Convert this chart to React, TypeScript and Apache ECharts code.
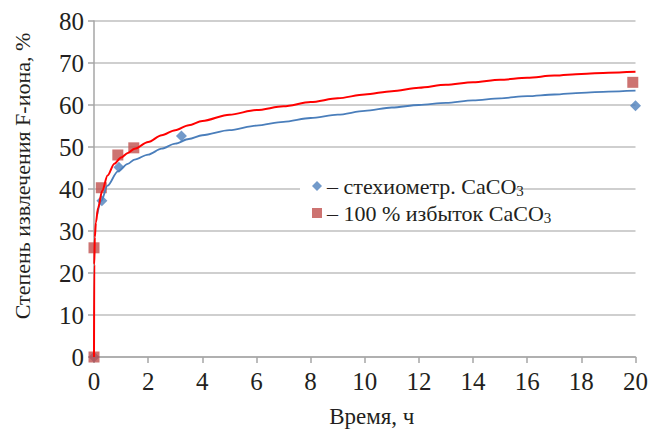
import React, { useEffect, useRef } from "react";
import * as echarts from "echarts";

// Measured points
const blueX = [0, 0.29, 0.92, 3.23, 20];
const blueY = [0, 37.2, 45.2, 52.6, 59.8];
const redX = [0, 0, 0.27, 0.88, 1.47, 19.9];
const redY = [0, 26, 40.3, 48.1, 49.8, 65.4];

// Trend curves
const redCurveX = [0, 0.01, 0.03, 0.07, 0.15, 0.3, 0.5, 0.75, 1, 1.25, 1.5, 2, 2.5, 3, 3.5, 4, 5, 6, 7, 8, 9, 10, 11, 12, 13, 14, 15, 16, 17, 18, 19, 20];
const redCurveY = [0, 22, 28.5, 32, 35.5, 39.5, 43.2, 46, 47.5, 48.6, 49.6, 51.2, 52.8, 54.0, 55.2, 56.2, 57.7, 58.8, 59.7, 60.7, 61.6, 62.5, 63.3, 64.1, 64.8, 65.4, 66.0, 66.5, 67.0, 67.4, 67.7, 67.9];
const blueCurveX = [0.12, 0.27, 0.5, 0.88, 1.25, 1.5, 2, 2.5, 3, 3.5, 4, 5, 6, 7, 8, 9, 10, 11, 12, 13, 14, 15, 16, 17, 18, 19, 20];
const blueCurveY = [34, 37.2, 40.8, 44.2, 46, 47, 48.2, 49.6, 50.8, 51.9, 52.8, 54.0, 55.1, 56.0, 56.9, 57.7, 58.6, 59.4, 60.0, 60.5, 61.1, 61.6, 62.1, 62.5, 62.9, 63.2, 63.4];

const blueName = "стехиометр. CaCO3";
const redName = "100 % избыток CaCO3";
const xTitle = "Время, ч";
const yTitle = "Степень извлечения F-иона, %";

const FONT = "'Liberation Serif', 'Times New Roman', serif";
const TXT = "#231f20";

export default function App() {
  const ref = useRef<HTMLDivElement>(null);
  useEffect(() => {
    if (!ref.current) return;
    const chart = echarts.init(ref.current, undefined, { renderer: "svg" });
    const pairs = (xs: number[], ys: number[]) => xs.map((x, i) => [x, ys[i]]);
    chart.setOption({
      animation: false,
      backgroundColor: "#ffffff",
      textStyle: { fontFamily: FONT },
      grid: { left: 94, right: 12, top: 21, bottom: 68, containLabel: false },
      xAxis: {
        type: "value",
        min: 0,
        max: 20,
        interval: 2,
        name: xTitle,
        nameLocation: "middle",
        nameGap: 48,
        nameTextStyle: { fontFamily: FONT, fontSize: 23, color: TXT, padding: [0, 0, 0, 14] },
        axisLine: { show: true, lineStyle: { color: "#a6a6a6", width: 1.5 } },
        axisTick: { show: true, length: 6, lineStyle: { color: "#a6a6a6", width: 1.5 } },
        axisLabel: { fontFamily: FONT, fontSize: 25, color: TXT, margin: 12 },
        splitLine: { show: false },
      },
      yAxis: {
        type: "value",
        min: 0,
        max: 80,
        interval: 10,
        axisLine: { show: true, lineStyle: { color: "#a6a6a6", width: 1.5 } },
        axisTick: { show: true, length: 6, lineStyle: { color: "#a6a6a6", width: 1.5 } },
        axisLabel: { fontFamily: FONT, fontSize: 25, color: TXT, margin: 10 },
        splitLine: { show: true, lineStyle: { color: "#bfbfbf", width: 1.5 } },
      },
      legend: {
        data: [blueName, redName],
        orient: "vertical",
        left: 312,
        top: 173,
        itemWidth: 10,
        itemHeight: 10,
        itemGap: 2,
        padding: 0,
        z: 5,
        formatter: (name: string) => "– " + name.slice(0, -1) + "{s|3}",
        textStyle: {
          fontFamily: FONT,
          fontSize: 22,
          color: TXT,
          lineHeight: 24,
          rich: {
            s: { fontFamily: FONT, fontSize: 15, color: TXT, lineHeight: 24, verticalAlign: "bottom", padding: [10, 0, 0, 0] },
          },
        },
      },
      graphic: [
        { type: "rect", left: 300, top: 171, z: 1, shape: { width: 213, height: 54 }, style: { fill: "#ffffff" } },
        {
          type: "text",
          x: 22,
          y: 176,
          rotation: Math.PI / 2,
          style: { text: yTitle, fontFamily: FONT, fontSize: 22, fill: TXT, align: "center", verticalAlign: "middle" },
        },
      ],
      series: [
        {
          name: blueName,
          type: "scatter",
          symbol: "diamond",
          symbolSize: 11,
          itemStyle: { color: "#4f81bd" },
          data: pairs(blueX, blueY),
          z: 2,
        },
        {
          name: redName,
          type: "scatter",
          symbol: "rect",
          symbolSize: 11,
          itemStyle: { color: "#c0504d" },
          data: pairs(redX, redY),
          z: 2,
        },
        {
          name: "blueTrend",
          type: "line",
          showSymbol: false,
          smooth: 0.3,
          smoothMonotone: "x",
          lineStyle: { color: "#4a7ebb", width: 1.8 },
          data: pairs(blueCurveX, blueCurveY),
          z: 3,
        },
        {
          name: "redTrend",
          type: "line",
          showSymbol: false,
          smooth: 0.3,
          smoothMonotone: "x",
          lineStyle: { color: "#ff0000", width: 2 },
          data: pairs(redCurveX, redCurveY),
          z: 3,
        },
      ],
    });
    return () => chart.dispose();
  }, []);
  return (
    <div style={{ position: "fixed", left: 0, top: 0, width: 651, height: 433 }}>
      <div ref={ref} style={{ width: 651, height: 433 }} />
    </div>
  );
}
